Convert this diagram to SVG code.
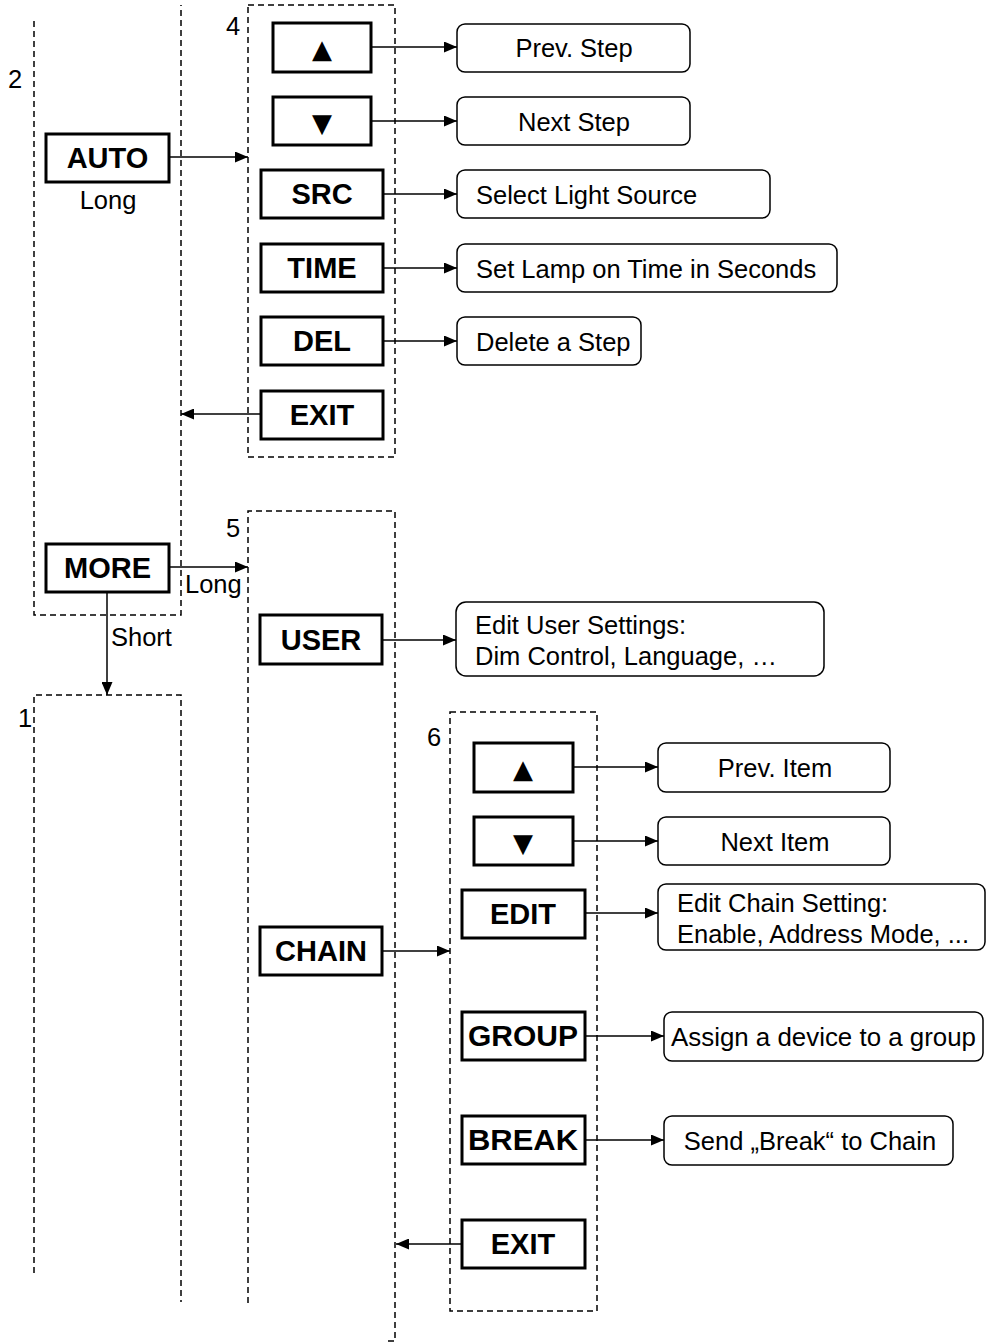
<svg xmlns="http://www.w3.org/2000/svg" width="988" height="1343" viewBox="0 0 988 1343">
<defs>
<style>
.dash{fill:none;stroke:#000;stroke-width:1.5;stroke-dasharray:6 4}
.btn{fill:#fff;stroke:#000;stroke-width:3}
.res{fill:#fff;stroke:#000;stroke-width:1.5}
.bt{font-family:"Liberation Sans",Arial,sans-serif;font-weight:bold;font-size:29px;text-anchor:middle}
.tri{font-family:"DejaVu Sans","Liberation Sans",sans-serif;font-size:26px;text-anchor:middle}
.rt{font-family:"Liberation Sans",Arial,sans-serif;font-size:25.5px}
.c{text-anchor:middle}
.con{fill:none;stroke:#000;stroke-width:1.5}
</style>
<marker id="ah" markerWidth="13" markerHeight="11" refX="13" refY="5.5" orient="auto" markerUnits="userSpaceOnUse">
<path d="M0,0 L13,5.5 L0,11 Z" fill="#000"/>
</marker>
</defs>
<rect width="988" height="1343" fill="#fff"/>

<g id="group2">
<path class="dash" d="M34,21 V615 H181 V5"/>
<text class="rt" x="8" y="88">2</text>
</g>
<g id="group1">
<path class="dash" d="M34,1273 V695 H181 V1302"/>
<text class="rt" x="18" y="727">1</text>
</g>
<g id="group4">
<rect class="dash" x="248" y="5" width="147" height="452"/>
<text class="rt" x="226" y="35">4</text>
</g>
<g id="group5">
<path class="dash" d="M248,1303 V511 H395 V1341 H387"/>
<text class="rt" x="226" y="537">5</text>
</g>
<g id="group6">
<rect class="dash" x="450" y="712" width="147" height="599"/>
<text class="rt" x="427" y="746">6</text>
</g>

<g id="connectors">
<line class="con" x1="169" y1="157" x2="248" y2="157" marker-end="url(#ah)"/>
<line class="con" x1="371" y1="47" x2="457" y2="47" marker-end="url(#ah)"/>
<line class="con" x1="371" y1="121" x2="457" y2="121" marker-end="url(#ah)"/>
<line class="con" x1="383" y1="194" x2="457" y2="194" marker-end="url(#ah)"/>
<line class="con" x1="383" y1="268" x2="457" y2="268" marker-end="url(#ah)"/>
<line class="con" x1="383" y1="341" x2="457" y2="341" marker-end="url(#ah)"/>
<line class="con" x1="260" y1="414" x2="181" y2="414" marker-end="url(#ah)"/>
<line class="con" x1="169" y1="567" x2="248" y2="567" marker-end="url(#ah)"/>
<line class="con" x1="107" y1="592" x2="107" y2="695" marker-end="url(#ah)"/>
<line class="con" x1="382" y1="640" x2="456" y2="640" marker-end="url(#ah)"/>
<line class="con" x1="382" y1="951" x2="450" y2="951" marker-end="url(#ah)"/>
<line class="con" x1="573" y1="767" x2="658" y2="767" marker-end="url(#ah)"/>
<line class="con" x1="573" y1="841" x2="658" y2="841" marker-end="url(#ah)"/>
<line class="con" x1="585" y1="913" x2="658" y2="913" marker-end="url(#ah)"/>
<line class="con" x1="585" y1="1036" x2="664" y2="1036" marker-end="url(#ah)"/>
<line class="con" x1="585" y1="1140" x2="664" y2="1140" marker-end="url(#ah)"/>
<line class="con" x1="461" y1="1244" x2="396" y2="1244" marker-end="url(#ah)"/>
<text class="rt" x="185" y="593">Long</text>
<text class="rt" x="111" y="646">Short</text>
</g>

<g id="auto">
<rect class="btn" x="46" y="134" width="123" height="48"/>
<text class="bt" x="107.5" y="168">AUTO</text>
<text class="rt c" x="108" y="209">Long</text>
</g>
<g id="more">
<rect class="btn" x="46" y="544" width="123" height="48"/>
<text class="bt" x="107.5" y="578">MORE</text>
</g>

<g id="up4">
<rect class="btn" x="273" y="23" width="98" height="49"/>
<text class="tri" x="322" y="58">▲</text>
</g>
<g id="down4">
<rect class="btn" x="273" y="97" width="98" height="48"/>
<text class="tri" x="322" y="132">▼</text>
</g>
<g id="src">
<rect class="btn" x="261" y="170" width="122" height="48"/>
<text class="bt" x="322" y="204">SRC</text>
</g>
<g id="time">
<rect class="btn" x="261" y="244" width="122" height="48"/>
<text class="bt" x="322" y="278">TIME</text>
</g>
<g id="del">
<rect class="btn" x="261" y="317" width="122" height="48"/>
<text class="bt" x="322" y="351">DEL</text>
</g>
<g id="exit4">
<rect class="btn" x="261" y="391" width="122" height="48"/>
<text class="bt" x="322" y="425">EXIT</text>
</g>

<g id="prevstep">
<rect class="res" x="457" y="24" width="233" height="48" rx="8"/>
<text class="rt c" x="574" y="57">Prev. Step</text>
</g>
<g id="nextstep">
<rect class="res" x="457" y="97" width="233" height="48" rx="8"/>
<text class="rt c" x="574" y="131">Next Step</text>
</g>
<g id="selsrc">
<rect class="res" x="457" y="170" width="313" height="48" rx="8"/>
<text class="rt" x="476" y="204">Select Light Source</text>
</g>
<g id="settime">
<rect class="res" x="457" y="244" width="380" height="48" rx="8"/>
<text class="rt" x="476" y="278">Set Lamp on Time in Seconds</text>
</g>
<g id="delstep">
<rect class="res" x="457" y="317" width="184" height="48" rx="8"/>
<text class="rt" x="476" y="351">Delete a Step</text>
</g>

<g id="user">
<rect class="btn" x="260" y="615" width="122" height="49"/>
<text class="bt" x="321" y="650">USER</text>
</g>
<g id="usersettings">
<rect class="res" x="456" y="602" width="368" height="74" rx="10"/>
<text class="rt" x="475" y="634">Edit User Settings:</text>
<text class="rt" x="475" y="665">Dim Control, Language, …</text>
</g>
<g id="chain">
<rect class="btn" x="260" y="927" width="122" height="48"/>
<text class="bt" x="321" y="961">CHAIN</text>
</g>

<g id="up6">
<rect class="btn" x="474" y="743" width="99" height="49"/>
<text class="tri" x="523" y="778">▲</text>
</g>
<g id="down6">
<rect class="btn" x="474" y="817" width="99" height="48"/>
<text class="tri" x="523" y="852">▼</text>
</g>
<g id="edit">
<rect class="btn" x="462" y="890" width="123" height="48"/>
<text class="bt" x="523" y="924">EDIT</text>
</g>
<g id="group">
<rect class="btn" x="462" y="1012" width="123" height="48"/>
<text class="bt" x="523" y="1046" textLength="110" lengthAdjust="spacingAndGlyphs">GROUP</text>
</g>
<g id="break">
<rect class="btn" x="462" y="1116" width="123" height="48"/>
<text class="bt" x="523" y="1150" textLength="110" lengthAdjust="spacingAndGlyphs">BREAK</text>
</g>
<g id="exit6">
<rect class="btn" x="462" y="1220" width="123" height="48"/>
<text class="bt" x="523" y="1254">EXIT</text>
</g>

<g id="previtem">
<rect class="res" x="658" y="743" width="232" height="49" rx="8"/>
<text class="rt c" x="775" y="777">Prev. Item</text>
</g>
<g id="nextitem">
<rect class="res" x="658" y="817" width="232" height="48" rx="8"/>
<text class="rt c" x="775" y="851">Next Item</text>
</g>
<g id="chainsetting">
<rect class="res" x="658" y="884" width="327" height="66" rx="8"/>
<text class="rt" x="677" y="912">Edit Chain Setting:</text>
<text class="rt" x="677" y="943">Enable, Address Mode, ...</text>
</g>
<g id="assigngroup">
<rect class="res" x="664" y="1012" width="319" height="49" rx="8"/>
<text class="rt" x="671" y="1046" textLength="305" lengthAdjust="spacingAndGlyphs">Assign a device to a group</text>
</g>
<g id="sendbreak">
<rect class="res" x="664" y="1116" width="289" height="49" rx="8"/>
<text class="rt c" x="810" y="1150">Send „Break“ to Chain</text>
</g>
</svg>
